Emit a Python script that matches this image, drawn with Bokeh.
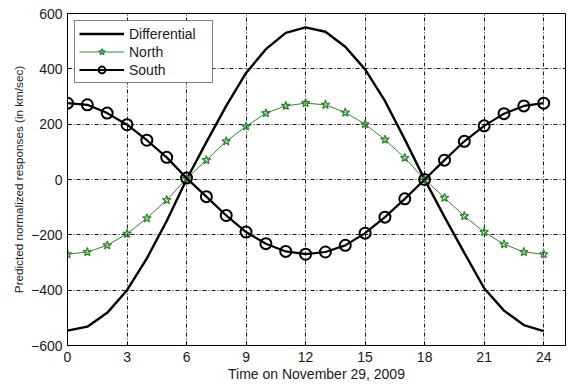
from bokeh.plotting import figure
from bokeh.models import Range1d, FixedTicker, Legend, LegendItem
from bokeh.embed import file_html
from bokeh.resources import INLINE

hours = list(range(25))
differential = [-546, -532, -482, -400, -285, -150, 0, 135, 266, 385, 471, 530, 550,
                534, 480, 398, 284, 145, 0, -135, -265, -393, -474, -526, -548]
north = [-270, -262, -238, -196, -140, -74, 3, 70, 138, 192, 240, 266, 276,
         270, 242, 200, 144, 78, 0, -66, -132, -190, -234, -262, -270]
south = [276, 270, 240, 198, 142, 80, 5, -62, -130, -190, -232, -260, -270,
         -262, -238, -194, -136, -70, 0, 70, 138, 194, 238, 266, 276]
x_ticks = [0, 3, 6, 9, 12, 15, 18, 21, 24]
y_ticks = [-600, -400, -200, 0, 200, 400, 600]

FONT = "Liberation Sans"
GREEN = "#2e8b2e"

p = figure(width=566, height=384, output_backend="svg", toolbar_location=None,
           x_range=Range1d(0, 25.1), y_range=Range1d(-600, 600),
           min_border_left=67, min_border_top=13, min_border_right=1, min_border_bottom=38)
p.background_fill_color = "white"
p.border_fill_color = "white"
p.outline_line_color = "black"
p.outline_line_width = 1

for ax in (p.xaxis[0], p.yaxis[0]):
    ax.major_tick_in = 4
    ax.major_tick_out = 0
    ax.minor_tick_in = 0
    ax.minor_tick_out = 0
    ax.axis_line_color = "black"
    ax.major_tick_line_color = "black"
    ax.major_label_text_font = FONT
    ax.major_label_text_font_size = "14px"
    ax.major_label_text_color = "#1a1a1a"
    ax.axis_label_text_font = FONT
    ax.axis_label_text_font_style = "normal"
    ax.axis_label_text_color = "#1a1a1a"

p.xaxis.ticker = FixedTicker(ticks=x_ticks)
p.yaxis.ticker = FixedTicker(ticks=y_ticks)
p.xaxis.axis_label = "Time on November 29, 2009"
p.yaxis.axis_label = "Predicted normalized responses (in km/sec)"
p.xaxis.axis_label_text_font_size = "14px"
p.yaxis.axis_label_text_font_size = "11.7px"
p.xaxis.major_label_standoff = 6
p.xaxis.axis_label_standoff = 1
p.yaxis.major_label_standoff = 5
p.yaxis.axis_label_standoff = 3

for g in (p.xgrid[0], p.ygrid[0]):
    g.grid_line_color = "black"
    g.grid_line_dash = "4 2 1 2"
    g.grid_line_width = 1
    g.grid_line_alpha = 0.9
p.xgrid.ticker = FixedTicker(ticks=x_ticks)
p.ygrid.ticker = FixedTicker(ticks=y_ticks)

r_diff = p.line(hours, differential, line_color="black", line_width=2.4)
r_n_line = p.line(hours, north, line_color=GREEN, line_width=1)
r_n_mark = p.scatter(hours, north, marker="star", size=9, line_color=GREEN,
                     fill_alpha=0, line_width=1.3)
r_s_line = p.line(hours, south, line_color="black", line_width=2.2)
r_s_mark = p.scatter(hours, south, marker="circle", size=11, line_color="black",
                     fill_alpha=0, line_width=2)

legend = Legend(items=[
    LegendItem(label="Differential", renderers=[r_diff]),
    LegendItem(label="North", renderers=[r_n_line, r_n_mark]),
    LegendItem(label="South", renderers=[r_s_line, r_s_mark]),
], location="top_left")
legend.border_line_color = "black"
legend.border_line_width = 1
legend.background_fill_alpha = 1
legend.label_text_font = FONT
legend.label_text_font_size = "14px"
legend.label_text_color = "#1a1a1a"
legend.glyph_width = 45
legend.glyph_height = 17
legend.label_height = 17
legend.spacing = 1
legend.padding = 4
legend.margin = 7
legend.label_standoff = 5
legend.label_width = 79
p.add_layout(legend, "center")

open("out.html", "w").write(file_html(p, INLINE))
